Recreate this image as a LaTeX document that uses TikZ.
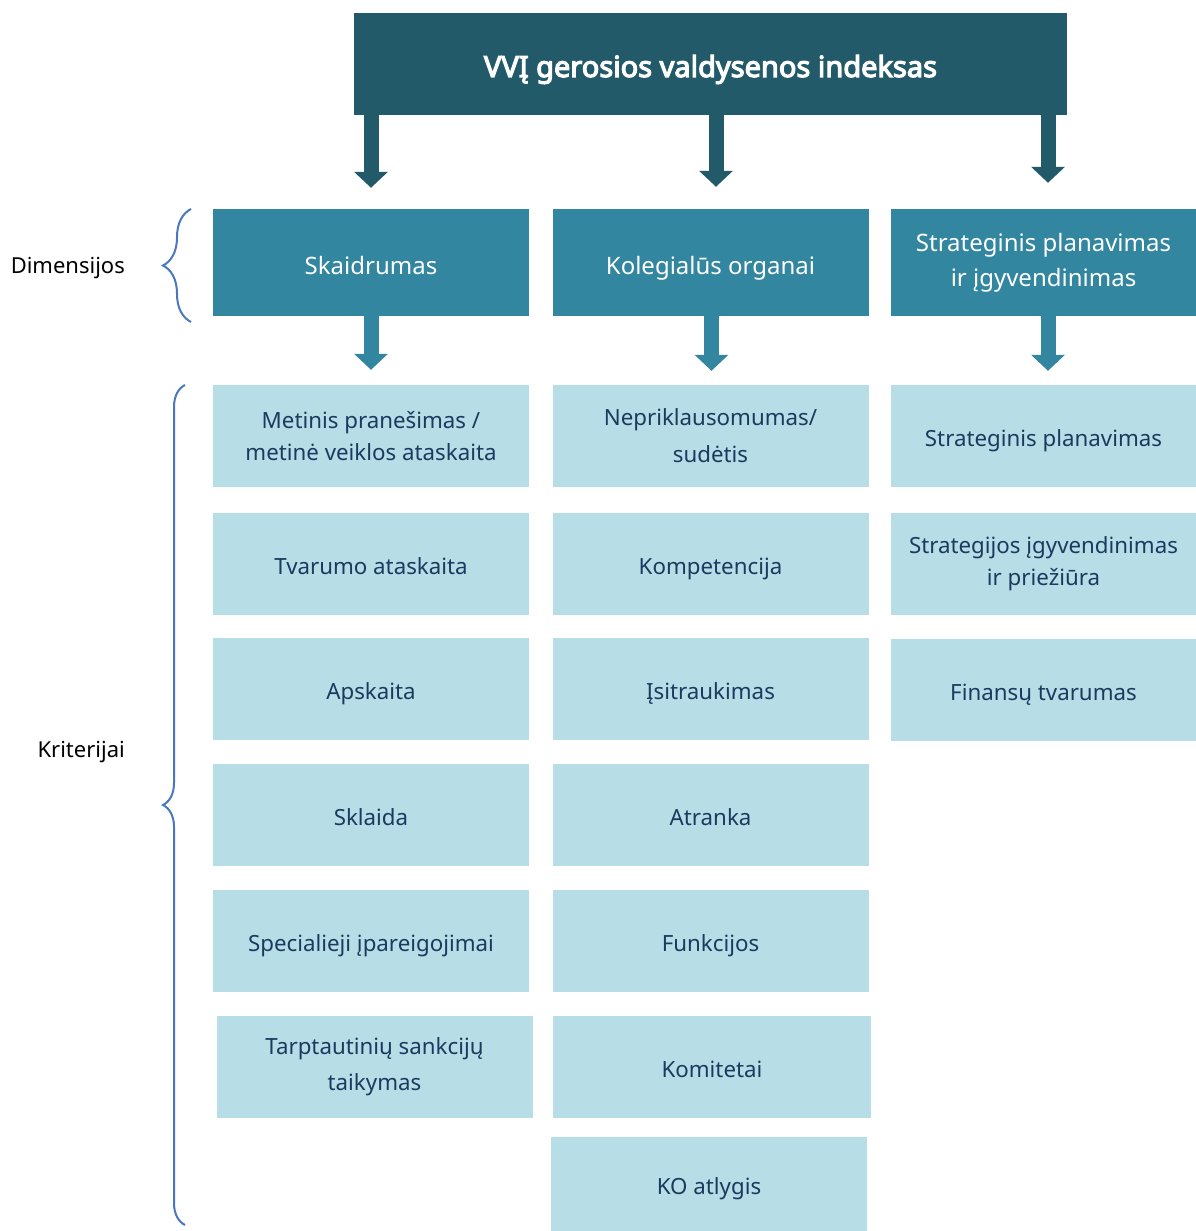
\documentclass[tikz,border=0pt]{standalone}
\usepackage{fontspec}
\setmainfont{Noto Sans}[AutoFakeBold=4]
\usepackage{tikz}
\usetikzlibrary{arrows.meta,calc,positioning,decorations.pathreplacing}
\definecolor{indexteal}{HTML}{225A6A}
\definecolor{dimteal}{HTML}{32869F}
\definecolor{critblue}{HTML}{B7DDE7}
\definecolor{critnavy}{HTML}{1B3A5E}
\definecolor{bracecol}{HTML}{4A78BE}

\begin{document}
\begin{tikzpicture}[x=1pt,y=-1pt,
    index/.style={rectangle,fill=indexteal,text=white,inner sep=0pt,
      minimum width=713pt,minimum height=102pt,
      text height=26pt,text depth=0pt,
      font=\bfseries\fontsize{29}{30}\selectfont},
    dimbox/.style={rectangle,fill=dimteal,text=white,inner sep=0pt,
      minimum width=316pt,minimum height=107pt,align=center,
      text height=24pt,text depth=0pt,
      font=\fontsize{24}{35}\selectfont},
    critbox/.style={rectangle,fill=critblue,text=critnavy,inner sep=0pt,
      minimum width=316pt,minimum height=102pt,align=center,
      text height=21pt,text depth=0pt,
      font=\fontsize{22.3}{32}\selectfont},
    twolines/.style={text height=,text depth=},
    bigarrow/.style={line width=15pt,
      -{Triangle[width=33pt,length=16pt]}},
    curly/.style={draw=bracecol,line width=2pt,decorate},
    sidelabel/.style={anchor=east,inner sep=0pt,
      font=\fontsize{22}{26}\selectfont}]
%
  \useasboundingbox (0,0) rectangle (1196,1231) ;
%
  \node (index) [index] at (710.5,64) {VVĮ gerosios valdysenos indeksas} ;
%
  \node (skaid) [dimbox] at (371,262.5) {Skaidrumas} ;
  \node (koleg) [dimbox] at (710.5,262.5) {Kolegialūs organai} ;
  \node (strat) [dimbox,twolines,minimum width=305pt] at (1043.5,262.5)
    {Strateginis planavimas\\ir įgyvendinimas} ;
%
  \node (metinis)   [critbox,twolines] at (371,436)
    {Metinis pranešimas /\\metinė veiklos ataskaita} ;
  \node (tvarumas)  [critbox] at (371,564) {Tvarumo ataskaita} ;
  \node (apskaita)  [critbox] at (371,689) {Apskaita} ;
  \node (sklaida)   [critbox] at (371,815) {Sklaida} ;
  \node (specialus) [critbox] at (371,941) {Specialieji įpareigojimai} ;
  \node (sankcijos) [critbox,twolines,font=\fontsize{22.3}{36}\selectfont]
    at (374.5,1067) {Tarptautinių sankcijų\\taikymas} ;
%
  \node (nepriklaus) [critbox,twolines,font=\fontsize{22.3}{37}\selectfont]
    at (710.5,436) {Nepriklausomumas/\\sudėtis} ;
  \node (kompet)   [critbox] at (710.5,564) {Kompetencija} ;
  \node (itrauk)   [critbox] at (710.5,689) {Įsitraukimas} ;
  \node (atranka)  [critbox] at (710.5,815) {Atranka} ;
  \node (funkc)    [critbox] at (710.5,941) {Funkcijos} ;
  \node (komitet)  [critbox,minimum width=318pt] at (712,1066.5) {Komitetai} ;
  \node (atlygis)  [critbox,minimum height=94pt] at (709,1184) {KO atlygis} ;
%
  \node (planav)   [critbox,minimum width=305pt] at (1043.5,436)
    {Strateginis planavimas} ;
  \node (igyvend)  [critbox,twolines,minimum width=305pt] at (1043.5,564)
    {Strategijos įgyvendinimas\\ir priežiūra} ;
  \node (finansai) [critbox,minimum width=305pt] at (1043.5,690)
    {Finansų tvarumas} ;
%
  \draw [bigarrow,indexteal] (index.south -| skaid) -- ([yshift=21pt]skaid.north) ;
  \draw [bigarrow,indexteal] ([xshift=5.5pt]index.south -| koleg)
    -- ([xshift=5.5pt,yshift=22pt]koleg.north) ;
  \draw [bigarrow,indexteal] ([xshift=4.5pt]index.south -| strat)
    -- ([xshift=4.5pt,yshift=26pt]strat.north) ;
%
  \draw [bigarrow,dimteal] (skaid.south) -- ([yshift=15pt]metinis.north) ;
  \draw [bigarrow,dimteal] ([xshift=1pt]koleg.south)
    -- ([xshift=1pt,yshift=14pt]nepriklaus.north) ;
  \draw [bigarrow,dimteal] ([xshift=4.5pt]strat.south)
    -- ([xshift=4.5pt,yshift=14pt]planav.north) ;
%
  \coordinate (dimtop) at (191,209) ;
  \coordinate (dimbot) at (191,322) ;
  \coordinate (crittop) at (185,385) ;
  \coordinate (critbot) at (185,1225) ;
%
  \draw [curly,decoration={brace,amplitude=28pt}] (dimbot) -- (dimtop) ;
  \draw [curly,decoration={brace,amplitude=22pt}] (critbot) -- (crittop) ;
%
  \node (dimlabel)  [sidelabel] at (125,268) {Dimensijos} ;
  \node (critlabel) [sidelabel] at (125,752) {Kriterijai} ;
%
\end{tikzpicture}
\end{document}
